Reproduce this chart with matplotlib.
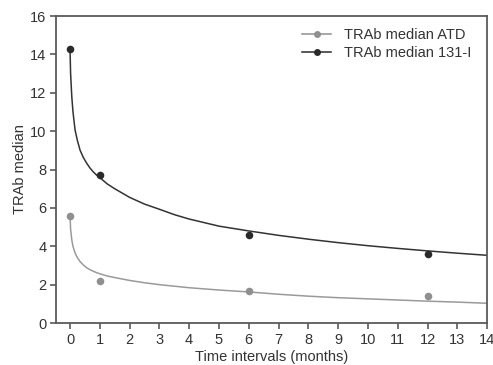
import matplotlib
matplotlib.use("Agg")
import matplotlib.pyplot as plt
from matplotlib.lines import Line2D

plt.rcParams['font.family'] = ['Liberation Sans Narrow', 'Liberation Sans', 'DejaVu Sans']

# measured medians
months = [0, 1, 6, 12]
atd_median = [5.6, 2.2, 1.65, 1.4]
i131_median = [14.3, 7.7, 4.6, 3.6]

# trend curves
curve_x = [0, 0.02, 0.06, 0.1, 0.17, 0.25, 0.34, 0.45, 0.56, 0.67, 0.78, 0.9, 1,
           1.25, 1.5, 2, 2.5, 3, 3.5, 4, 5, 6, 7, 8, 9, 10, 11, 12, 13, 14]
atd_curve = [5.6, 4.9, 4.33, 4.0, 3.65, 3.4, 3.2, 3.02, 2.88, 2.78, 2.7, 2.62, 2.57,
             2.45, 2.37, 2.22, 2.1, 2.0, 1.92, 1.84, 1.72, 1.62, 1.5, 1.4, 1.32, 1.26,
             1.2, 1.14, 1.09, 1.03]
i131_curve = [14.3, 13.0, 11.8, 11.0, 10.06, 9.5, 9.0, 8.62, 8.33, 8.08, 7.88, 7.7, 7.58,
              7.25, 7.0, 6.55, 6.2, 5.93, 5.65, 5.42, 5.05, 4.8, 4.57, 4.37, 4.19, 4.03,
              3.89, 3.76, 3.64, 3.53]

x_ticks = list(range(0, 15))
y_ticks = list(range(0, 17, 2))

atd_color = '#8f8f8f'
i131_color = '#2a2a2a'
spine_color = '#5a5a5a'
text_color = '#333333'

fig = plt.figure(figsize=(4.93, 3.65), dpi=100)
ax = fig.add_axes([0.1136, 0.115, 0.8744, 0.841])

ax.plot(curve_x, atd_curve, color='#9a9a9a', linewidth=1.1)
ax.plot(curve_x, i131_curve, color='#333333', linewidth=1.1)
ax.scatter(months, atd_median, color=atd_color, s=30, zorder=3, linewidths=0)
ax.scatter(months, i131_median, color=i131_color, s=30, zorder=3, linewidths=0)

ax.set_xlim(-0.47, 14)
ax.set_ylim(0, 16)
ax.set_xticks(x_ticks)
ax.set_yticks(y_ticks)
for s in ax.spines.values():
    s.set_color(spine_color)
    s.set_linewidth(1.3)
ax.tick_params(direction='out', length=4, width=1.2, color=spine_color,
               labelsize=10.5, labelcolor=text_color, pad=3)
ax.set_xlabel('Time intervals (months)', fontsize=10.5, color=text_color, labelpad=2)
ax.set_ylabel('TRAb median', fontsize=10.5, color=text_color, labelpad=2)

handles = [
    Line2D([0], [0], color=atd_color, marker='o', markersize=5, linewidth=1.1,
           markeredgewidth=0),
    Line2D([0], [0], color=i131_color, marker='o', markersize=5, linewidth=1.1,
           markeredgewidth=0),
]
ax.legend(handles, ['TRAb median ATD', 'TRAb median 131-I'], loc='upper right',
          frameon=False, fontsize=10.5, handlelength=2.0, handletextpad=0.9,
          labelspacing=0.3, bbox_to_anchor=(0.995, 1.005), labelcolor=text_color)

fig.savefig('out.png', dpi=100)
